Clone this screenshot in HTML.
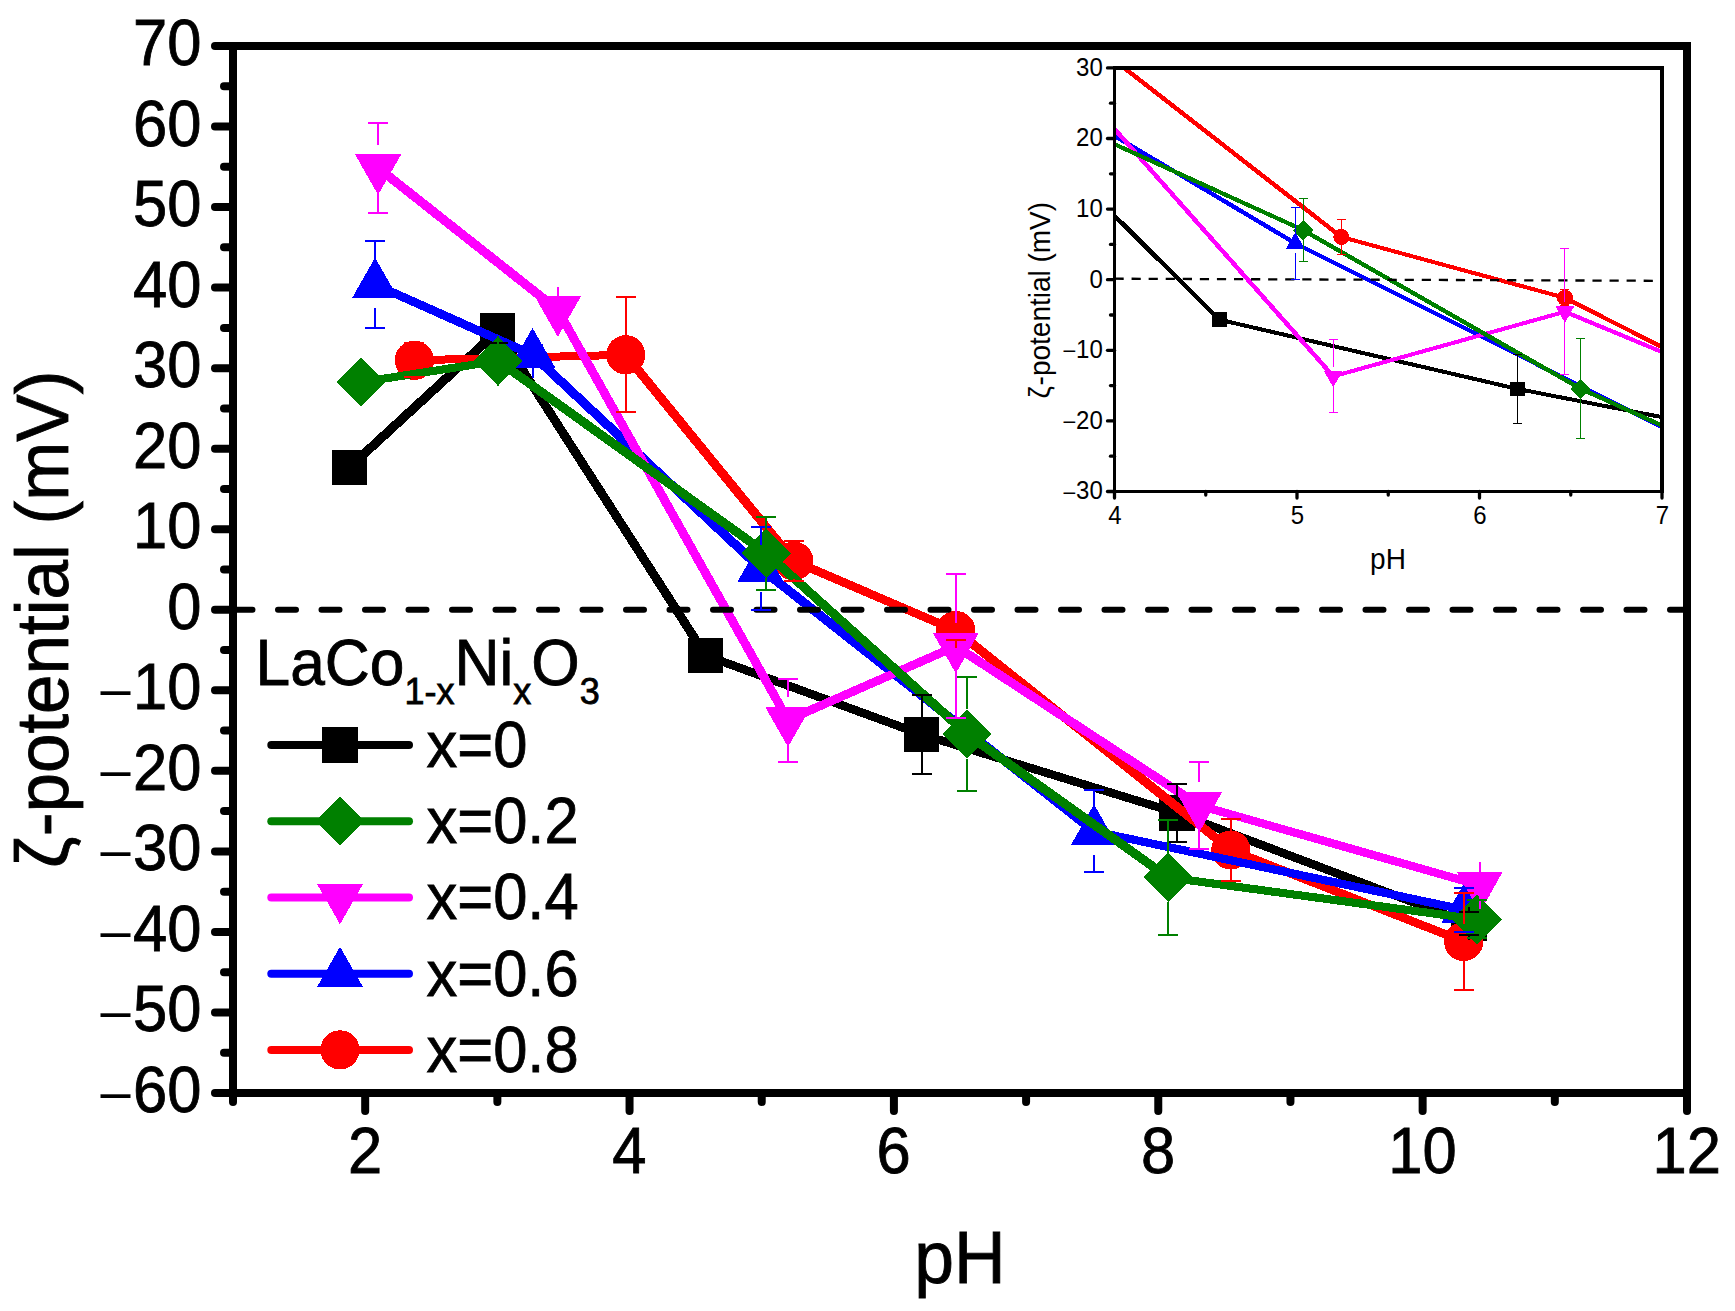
<!DOCTYPE html>
<html lang="en"><head><meta charset="utf-8"><title>zeta potential vs pH</title>
<style>html,body{margin:0;padding:0;background:#fff}body{width:1735px;height:1311px;overflow:hidden}svg{display:block}text{font-family:"Liberation Sans",Arial,sans-serif;fill:#000}</style></head><body>
<svg width="1735" height="1311" viewBox="0 0 1735 1311">
<rect width="1735" height="1311" fill="#fff"/>
<defs><clipPath id="ic"><rect x="1114.5" y="67.9" width="547.5" height="423.6"/></clipPath></defs>
<g shape-rendering="crispEdges">
<line x1="349.3" y1="467.4" x2="497.6" y2="331.1" stroke="#000000" stroke-width="9.19" stroke-linecap="round"/><line x1="497.6" y1="331.1" x2="705.6" y2="655.4" stroke="#000000" stroke-width="8.99" stroke-linecap="round"/><line x1="705.6" y1="655.4" x2="921.5" y2="734.4" stroke="#000000" stroke-width="8.5" stroke-linecap="round"/><line x1="921.5" y1="734.4" x2="1177" y2="813" stroke="#000000" stroke-width="8.38" stroke-linecap="round"/><line x1="1177" y1="813" x2="1469.2" y2="923.3" stroke="#000000" stroke-width="8.52" stroke-linecap="round"/>
<rect x="331.55" y="449.65" width="35.5" height="35.5" fill="#000000"/>
<rect x="479.85" y="313.35" width="35.5" height="35.5" fill="#000000"/>
<rect x="687.85" y="637.65" width="35.5" height="35.5" fill="#000000"/>
<rect x="903.75" y="716.65" width="35.5" height="35.5" fill="#000000"/>
<rect x="1159.25" y="795.25" width="35.5" height="35.5" fill="#000000"/>
<rect x="1451.45" y="905.55" width="35.5" height="35.5" fill="#000000"/>
<line x1="414.4" y1="360.3" x2="625.7" y2="354.8" stroke="#ff0000" stroke-width="8" stroke-linecap="round"/><line x1="625.7" y1="354.8" x2="793.8" y2="561" stroke="#ff0000" stroke-width="9.15" stroke-linecap="round"/><line x1="793.8" y1="561" x2="955.8" y2="630.5" stroke="#ff0000" stroke-width="8.63" stroke-linecap="round"/><line x1="955.8" y1="630.5" x2="1230.8" y2="850" stroke="#ff0000" stroke-width="9.14" stroke-linecap="round"/><line x1="1230.8" y1="850" x2="1463.7" y2="941.5" stroke="#ff0000" stroke-width="8.56" stroke-linecap="round"/>
<circle cx="414.4" cy="360.3" r="19.6" fill="#ff0000"/>
<circle cx="625.7" cy="354.8" r="19.6" fill="#ff0000"/>
<circle cx="793.8" cy="561" r="19.6" fill="#ff0000"/>
<circle cx="955.8" cy="630.5" r="19.6" fill="#ff0000"/>
<circle cx="1230.8" cy="850" r="19.6" fill="#ff0000"/>
<circle cx="1463.7" cy="941.5" r="19.6" fill="#ff0000"/>
<line x1="375.1" y1="284.6" x2="532.5" y2="354.8" stroke="#0000ff" stroke-width="8.66" stroke-linecap="round"/><line x1="532.5" y1="354.8" x2="760.5" y2="568.3" stroke="#0000ff" stroke-width="9.19" stroke-linecap="round"/><line x1="760.5" y1="568.3" x2="1094" y2="831.3" stroke="#0000ff" stroke-width="9.13" stroke-linecap="round"/><line x1="1094" y1="831.3" x2="1464.4" y2="909.8" stroke="#0000ff" stroke-width="8.2" stroke-linecap="round"/>
<polygon points="352.05,298.1 398.15,298.1 375.1,257.6" fill="#0000ff"/>
<polygon points="509.45,368.3 555.55,368.3 532.5,327.8" fill="#0000ff"/>
<polygon points="737.45,581.8 783.55,581.8 760.5,541.3" fill="#0000ff"/>
<polygon points="1070.95,844.8 1117.05,844.8 1094,804.3" fill="#0000ff"/>
<polygon points="1441.35,923.3 1487.45,923.3 1464.4,882.8" fill="#0000ff"/>
<line x1="378.1" y1="167.9" x2="557.8" y2="309.9" stroke="#ff00ff" stroke-width="9.14" stroke-linecap="round"/><line x1="557.8" y1="309.9" x2="788" y2="720" stroke="#ff00ff" stroke-width="8.87" stroke-linecap="round"/><line x1="788" y1="720" x2="955.8" y2="646.3" stroke="#ff00ff" stroke-width="8.65" stroke-linecap="round"/><line x1="955.8" y1="646.3" x2="1199.2" y2="805.4" stroke="#ff00ff" stroke-width="9.01" stroke-linecap="round"/><line x1="1199.2" y1="805.4" x2="1479.7" y2="885.3" stroke="#ff00ff" stroke-width="8.33" stroke-linecap="round"/>
<polygon points="355.05,154.4 401.15,154.4 378.1,194.9" fill="#ff00ff"/>
<polygon points="534.75,296.4 580.85,296.4 557.8,336.9" fill="#ff00ff"/>
<polygon points="764.95,706.5 811.05,706.5 788,747" fill="#ff00ff"/>
<polygon points="932.75,632.8 978.85,632.8 955.8,673.3" fill="#ff00ff"/>
<polygon points="1176.15,791.9 1222.25,791.9 1199.2,832.4" fill="#ff00ff"/>
<polygon points="1456.65,871.8 1502.75,871.8 1479.7,912.3" fill="#ff00ff"/>
<line x1="361" y1="382.2" x2="498" y2="360.9" stroke="#008000" stroke-width="8.11" stroke-linecap="round"/><line x1="498" y1="360.9" x2="766.2" y2="553.2" stroke="#008000" stroke-width="9.08" stroke-linecap="round"/><line x1="766.2" y1="553.2" x2="967.1" y2="734.1" stroke="#008000" stroke-width="9.19" stroke-linecap="round"/><line x1="967.1" y1="734.1" x2="1168.1" y2="877.4" stroke="#008000" stroke-width="9.07" stroke-linecap="round"/><line x1="1168.1" y1="877.4" x2="1477" y2="919.4" stroke="#008000" stroke-width="8.09" stroke-linecap="round"/>
<polygon points="336.3,382.2 361,357.5 385.7,382.2 361,406.9" fill="#008000"/>
<polygon points="473.3,360.9 498,336.2 522.7,360.9 498,385.6" fill="#008000"/>
<polygon points="741.5,553.2 766.2,528.5 790.9,553.2 766.2,577.9" fill="#008000"/>
<polygon points="942.4,734.1 967.1,709.4 991.8,734.1 967.1,758.8" fill="#008000"/>
<polygon points="1143.4,877.4 1168.1,852.7 1192.8,877.4 1168.1,902.1" fill="#008000"/>
<polygon points="1452.3,919.4 1477,894.7 1501.7,919.4 1477,944.1" fill="#008000"/>
<line x1="234.5" y1="609.77" x2="1687" y2="609.77" stroke="#000" stroke-width="6" stroke-dasharray="18 25.5" stroke-linecap="round" shape-rendering="auto"/>

<path d="M497.6 314.7V319.1M487.6 319.1H507.6" stroke="#000000" stroke-width="2" fill="none"/><path d="M497.6 347.5V343.1M487.6 343.1H507.6" stroke="#000000" stroke-width="2" fill="none"/>

<path d="M921.5 718V695.2M911.5 695.2H931.5" stroke="#000000" stroke-width="2" fill="none"/><path d="M921.5 750.8V773.6M911.5 773.6H931.5" stroke="#000000" stroke-width="2" fill="none"/>
<path d="M1177 796.6V783.6M1167 783.6H1187" stroke="#000000" stroke-width="2" fill="none"/><path d="M1177 829.4V842.4M1167 842.4H1187" stroke="#000000" stroke-width="2" fill="none"/>
<path d="M1469.2 906.9V911.6M1459.2 911.6H1479.2" stroke="#000000" stroke-width="2" fill="none"/><path d="M1469.2 939.7V935M1459.2 935H1479.2" stroke="#000000" stroke-width="2" fill="none"/>
<path d="M414.4 342.7V343.3M404.4 343.3H424.4" stroke="#ff0000" stroke-width="2" fill="none"/><path d="M414.4 377.9V377.3M404.4 377.3H424.4" stroke="#ff0000" stroke-width="2" fill="none"/>
<path d="M625.7 337.2V297.3M615.7 297.3H635.7" stroke="#ff0000" stroke-width="2" fill="none"/><path d="M625.7 372.4V412.3M615.7 412.3H635.7" stroke="#ff0000" stroke-width="2" fill="none"/>
<path d="M793.8 543.4V540.7M783.8 540.7H803.8" stroke="#ff0000" stroke-width="2" fill="none"/><path d="M793.8 578.6V581.3M783.8 581.3H803.8" stroke="#ff0000" stroke-width="2" fill="none"/>
<path d="M955.8 612.9V621.5M945.8 621.5H965.8" stroke="#ff0000" stroke-width="2" fill="none"/><path d="M955.8 648.1V639.5M945.8 639.5H965.8" stroke="#ff0000" stroke-width="2" fill="none"/>
<path d="M1230.8 832.4V819M1220.8 819H1240.8" stroke="#ff0000" stroke-width="2" fill="none"/><path d="M1230.8 867.6V881M1220.8 881H1240.8" stroke="#ff0000" stroke-width="2" fill="none"/>
<path d="M1463.7 923.9V893.1M1453.7 893.1H1473.7" stroke="#ff0000" stroke-width="2" fill="none"/><path d="M1463.7 959.1V989.9M1453.7 989.9H1473.7" stroke="#ff0000" stroke-width="2" fill="none"/>
<path d="M375.1 261.3V241M365.1 241H385.1" stroke="#0000ff" stroke-width="2" fill="none"/><path d="M375.1 307.9V328.2M365.1 328.2H385.1" stroke="#0000ff" stroke-width="2" fill="none"/>
<path d="M532.5 331.5V344.8M522.5 344.8H542.5" stroke="#0000ff" stroke-width="2" fill="none"/><path d="M532.5 378.1V364.8M522.5 364.8H542.5" stroke="#0000ff" stroke-width="2" fill="none"/>
<path d="M760.5 545V527M750.5 527H770.5" stroke="#0000ff" stroke-width="2" fill="none"/><path d="M760.5 591.6V609.6M750.5 609.6H770.5" stroke="#0000ff" stroke-width="2" fill="none"/>
<path d="M1094 808V790.3M1084 790.3H1104" stroke="#0000ff" stroke-width="2" fill="none"/><path d="M1094 854.6V872.3M1084 872.3H1104" stroke="#0000ff" stroke-width="2" fill="none"/>
<path d="M1464.4 886.5V888.1M1454.4 888.1H1474.4" stroke="#0000ff" stroke-width="2" fill="none"/><path d="M1464.4 933.1V931.5M1454.4 931.5H1474.4" stroke="#0000ff" stroke-width="2" fill="none"/>
<path d="M378.1 144.6V122.9M368.1 122.9H388.1" stroke="#ff00ff" stroke-width="2" fill="none"/><path d="M378.1 191.2V212.9M368.1 212.9H388.1" stroke="#ff00ff" stroke-width="2" fill="none"/>
<path d="M557.8 286.6V299.9M547.8 299.9H567.8" stroke="#ff00ff" stroke-width="2" fill="none"/><path d="M557.8 333.2V319.9M547.8 319.9H567.8" stroke="#ff00ff" stroke-width="2" fill="none"/>
<path d="M788 696.7V678.5M778 678.5H798" stroke="#ff00ff" stroke-width="2" fill="none"/><path d="M788 743.3V761.5M778 761.5H798" stroke="#ff00ff" stroke-width="2" fill="none"/>
<path d="M955.8 623V574.3M945.8 574.3H965.8" stroke="#ff00ff" stroke-width="2" fill="none"/><path d="M955.8 669.6V718.3M945.8 718.3H965.8" stroke="#ff00ff" stroke-width="2" fill="none"/>
<path d="M1199.2 782.1V761.9M1189.2 761.9H1209.2" stroke="#ff00ff" stroke-width="2" fill="none"/><path d="M1199.2 828.7V848.9M1189.2 848.9H1209.2" stroke="#ff00ff" stroke-width="2" fill="none"/>
<path d="M1479.7 862V875.3M1469.7 875.3H1489.7" stroke="#ff00ff" stroke-width="2" fill="none"/><path d="M1479.7 908.6V895.3M1469.7 895.3H1489.7" stroke="#ff00ff" stroke-width="2" fill="none"/>

<path d="M498 336.2V356.9M488 356.9H508" stroke="#008000" stroke-width="2" fill="none"/><path d="M498 385.6V364.9M488 364.9H508" stroke="#008000" stroke-width="2" fill="none"/>
<path d="M766.2 528.5V516.9M756.2 516.9H776.2" stroke="#008000" stroke-width="2" fill="none"/><path d="M766.2 577.9V589.5M756.2 589.5H776.2" stroke="#008000" stroke-width="2" fill="none"/>
<path d="M967.1 709.4V677.35M957.1 677.35H977.1" stroke="#008000" stroke-width="2" fill="none"/><path d="M967.1 758.8V790.85M957.1 790.85H977.1" stroke="#008000" stroke-width="2" fill="none"/>
<path d="M1168.1 852.7V819.9M1158.1 819.9H1178.1" stroke="#008000" stroke-width="2" fill="none"/><path d="M1168.1 902.1V934.9M1158.1 934.9H1178.1" stroke="#008000" stroke-width="2" fill="none"/>
<path d="M1477 894.7V900.4M1467 900.4H1487" stroke="#008000" stroke-width="2" fill="none"/><path d="M1477 944.1V938.4M1467 938.4H1487" stroke="#008000" stroke-width="2" fill="none"/>
</g>
<g stroke="#000" stroke-width="8" fill="none" shape-rendering="crispEdges">
<rect x="233" y="46" width="1454" height="1047"/>
</g>
<g stroke="#000" stroke-width="8" stroke-linecap="round" fill="none">
<line x1="233" y1="46" x2="215" y2="46"/>
<line x1="233" y1="86.27" x2="224" y2="86.27"/>
<line x1="233" y1="126.54" x2="215" y2="126.54"/>
<line x1="233" y1="166.81" x2="224" y2="166.81"/>
<line x1="233" y1="207.08" x2="215" y2="207.08"/>
<line x1="233" y1="247.35" x2="224" y2="247.35"/>
<line x1="233" y1="287.62" x2="215" y2="287.62"/>
<line x1="233" y1="327.88" x2="224" y2="327.88"/>
<line x1="233" y1="368.15" x2="215" y2="368.15"/>
<line x1="233" y1="408.42" x2="224" y2="408.42"/>
<line x1="233" y1="448.69" x2="215" y2="448.69"/>
<line x1="233" y1="488.96" x2="224" y2="488.96"/>
<line x1="233" y1="529.23" x2="215" y2="529.23"/>
<line x1="233" y1="569.5" x2="224" y2="569.5"/>
<line x1="233" y1="609.77" x2="215" y2="609.77"/>
<line x1="233" y1="650.04" x2="224" y2="650.04"/>
<line x1="233" y1="690.31" x2="215" y2="690.31"/>
<line x1="233" y1="730.58" x2="224" y2="730.58"/>
<line x1="233" y1="770.85" x2="215" y2="770.85"/>
<line x1="233" y1="811.12" x2="224" y2="811.12"/>
<line x1="233" y1="851.38" x2="215" y2="851.38"/>
<line x1="233" y1="891.65" x2="224" y2="891.65"/>
<line x1="233" y1="931.92" x2="215" y2="931.92"/>
<line x1="233" y1="972.19" x2="224" y2="972.19"/>
<line x1="233" y1="1012.46" x2="215" y2="1012.46"/>
<line x1="233" y1="1052.73" x2="224" y2="1052.73"/>
<line x1="233" y1="1093" x2="215" y2="1093"/>
<line x1="233" y1="1093" x2="233" y2="1102"/>
<line x1="365.18" y1="1093" x2="365.18" y2="1111"/>
<line x1="497.36" y1="1093" x2="497.36" y2="1102"/>
<line x1="629.55" y1="1093" x2="629.55" y2="1111"/>
<line x1="761.73" y1="1093" x2="761.73" y2="1102"/>
<line x1="893.91" y1="1093" x2="893.91" y2="1111"/>
<line x1="1026.09" y1="1093" x2="1026.09" y2="1102"/>
<line x1="1158.27" y1="1093" x2="1158.27" y2="1111"/>
<line x1="1290.45" y1="1093" x2="1290.45" y2="1102"/>
<line x1="1422.64" y1="1093" x2="1422.64" y2="1111"/>
<line x1="1554.82" y1="1093" x2="1554.82" y2="1102"/>
<line x1="1687" y1="1093" x2="1687" y2="1111"/>
</g>
<text transform="translate(201.5 65) scale(1 1.04)" font-size="61.5" text-anchor="end" stroke="#000" stroke-width="0.8">70</text>
<text transform="translate(201.5 145.54) scale(1 1.04)" font-size="61.5" text-anchor="end" stroke="#000" stroke-width="0.8">60</text>
<text transform="translate(201.5 226.08) scale(1 1.04)" font-size="61.5" text-anchor="end" stroke="#000" stroke-width="0.8">50</text>
<text transform="translate(201.5 306.62) scale(1 1.04)" font-size="61.5" text-anchor="end" stroke="#000" stroke-width="0.8">40</text>
<text transform="translate(201.5 387.15) scale(1 1.04)" font-size="61.5" text-anchor="end" stroke="#000" stroke-width="0.8">30</text>
<text transform="translate(201.5 467.69) scale(1 1.04)" font-size="61.5" text-anchor="end" stroke="#000" stroke-width="0.8">20</text>
<text transform="translate(201.5 548.23) scale(1 1.04)" font-size="61.5" text-anchor="end" stroke="#000" stroke-width="0.8">10</text>
<text transform="translate(201.5 628.77) scale(1 1.04)" font-size="61.5" text-anchor="end" stroke="#000" stroke-width="0.8">0</text>
<text transform="translate(201.5 709.31) scale(1 1.04)" font-size="61.5" text-anchor="end" stroke="#000" stroke-width="0.8"><tspan font-size="54" dy="-2.1" stroke="none">–</tspan><tspan dy="2.1" dx="2.5">10</tspan></text>
<text transform="translate(201.5 789.85) scale(1 1.04)" font-size="61.5" text-anchor="end" stroke="#000" stroke-width="0.8"><tspan font-size="54" dy="-2.1" stroke="none">–</tspan><tspan dy="2.1" dx="2.5">20</tspan></text>
<text transform="translate(201.5 870.38) scale(1 1.04)" font-size="61.5" text-anchor="end" stroke="#000" stroke-width="0.8"><tspan font-size="54" dy="-2.1" stroke="none">–</tspan><tspan dy="2.1" dx="2.5">30</tspan></text>
<text transform="translate(201.5 950.92) scale(1 1.04)" font-size="61.5" text-anchor="end" stroke="#000" stroke-width="0.8"><tspan font-size="54" dy="-2.1" stroke="none">–</tspan><tspan dy="2.1" dx="2.5">40</tspan></text>
<text transform="translate(201.5 1031.46) scale(1 1.04)" font-size="61.5" text-anchor="end" stroke="#000" stroke-width="0.8"><tspan font-size="54" dy="-2.1" stroke="none">–</tspan><tspan dy="2.1" dx="2.5">50</tspan></text>
<text transform="translate(201.5 1112) scale(1 1.04)" font-size="61.5" text-anchor="end" stroke="#000" stroke-width="0.8"><tspan font-size="54" dy="-2.1" stroke="none">–</tspan><tspan dy="2.1" dx="2.5">60</tspan></text>
<text transform="translate(364.98 1172.8) scale(1 1.04)" font-size="61.5" text-anchor="middle" stroke="#000" stroke-width="0.8">2</text>
<text transform="translate(629.35 1172.8) scale(1 1.04)" font-size="61.5" text-anchor="middle" stroke="#000" stroke-width="0.8">4</text>
<text transform="translate(893.71 1172.8) scale(1 1.04)" font-size="61.5" text-anchor="middle" stroke="#000" stroke-width="0.8">6</text>
<text transform="translate(1158.07 1172.8) scale(1 1.04)" font-size="61.5" text-anchor="middle" stroke="#000" stroke-width="0.8">8</text>
<text transform="translate(1422.44 1172.8) scale(1 1.04)" font-size="61.5" text-anchor="middle" stroke="#000" stroke-width="0.8">10</text>
<text transform="translate(1686.8 1172.8) scale(1 1.04)" font-size="61.5" text-anchor="middle" stroke="#000" stroke-width="0.8">12</text>
<text transform="translate(960 1283) scale(1 1.04)" font-size="71.5" text-anchor="middle" stroke="#000" stroke-width="0.8">pH</text>
<text transform="translate(67.5 836.2) rotate(-90) scale(1 1.04)" font-size="71" text-anchor="start" stroke="#000" stroke-width="0.8">-potential (mV)</text>
<text transform="translate(67.5 868) rotate(-90) scale(1 1.04)" font-size="71" text-anchor="start" stroke="#000" stroke-width="0.8" font-family="Liberation Serif, serif">ζ</text>
<text transform="translate(255.5 684.7) scale(1 1.04)" font-size="62.3" text-anchor="start" stroke="#000" stroke-width="0.8">LaCo<tspan font-size="36" dy="18.8">1-x</tspan><tspan dy="-18.8">Ni</tspan><tspan font-size="36" dy="18.8">x</tspan><tspan dy="-18.8">O</tspan><tspan font-size="36" dy="18.8">3</tspan></text>
<line x1="271.3" y1="744.9" x2="409" y2="744.9" stroke="#000000" stroke-width="8" stroke-linecap="round"/>
<g shape-rendering="crispEdges"><rect x="322.25" y="727.15" width="35.5" height="35.5" fill="#000000"/></g>
<text transform="translate(426.5 766.8) scale(1 1.04)" font-size="61.5" text-anchor="start" stroke="#000" stroke-width="0.8">x=0</text>
<line x1="271.3" y1="821.15" x2="409" y2="821.15" stroke="#008000" stroke-width="8" stroke-linecap="round"/>
<g shape-rendering="crispEdges"><polygon points="315.3,821.15 340,796.45 364.7,821.15 340,845.85" fill="#008000"/></g>
<text transform="translate(426.5 843.05) scale(1 1.04)" font-size="61.5" text-anchor="start" stroke="#000" stroke-width="0.8">x=0.2</text>
<line x1="271.3" y1="897.4" x2="409" y2="897.4" stroke="#ff00ff" stroke-width="8" stroke-linecap="round"/>
<g shape-rendering="crispEdges"><polygon points="316.95,883.9 363.05,883.9 340,924.4" fill="#ff00ff"/></g>
<text transform="translate(426.5 919.3) scale(1 1.04)" font-size="61.5" text-anchor="start" stroke="#000" stroke-width="0.8">x=0.4</text>
<line x1="271.3" y1="973.65" x2="409" y2="973.65" stroke="#0000ff" stroke-width="8" stroke-linecap="round"/>
<g shape-rendering="crispEdges"><polygon points="316.95,987.15 363.05,987.15 340,946.65" fill="#0000ff"/></g>
<text transform="translate(426.5 995.55) scale(1 1.04)" font-size="61.5" text-anchor="start" stroke="#000" stroke-width="0.8">x=0.6</text>
<line x1="271.3" y1="1049.9" x2="409" y2="1049.9" stroke="#ff0000" stroke-width="8" stroke-linecap="round"/>
<g shape-rendering="crispEdges"><circle cx="340" cy="1049.9" r="19.6" fill="#ff0000"/></g>
<text transform="translate(426.5 1071.8) scale(1 1.04)" font-size="61.5" text-anchor="start" stroke="#000" stroke-width="0.8">x=0.8</text>
<g clip-path="url(#ic)" shape-rendering="crispEdges">
<line x1="727.57" y1="154.9" x2="932.33" y2="35.42" stroke="#000000" stroke-width="4.35" stroke-linecap="round"/><line x1="932.33" y1="35.42" x2="1219.51" y2="319.7" stroke="#000000" stroke-width="4.5" stroke-linecap="round"/><line x1="1219.51" y1="319.7" x2="1517.59" y2="388.95" stroke="#000000" stroke-width="4.02" stroke-linecap="round"/><line x1="1517.59" y1="388.95" x2="1870.36" y2="457.85" stroke="#000000" stroke-width="3.98" stroke-linecap="round"/><line x1="1870.36" y1="457.85" x2="2273.79" y2="554.54" stroke="#000000" stroke-width="4.02" stroke-linecap="round"/>
<rect x="720.29" y="147.62" width="14.55" height="14.55" fill="#000000"/>
<rect x="925.05" y="28.14" width="14.55" height="14.55" fill="#000000"/>
<rect x="1212.23" y="312.42" width="14.55" height="14.55" fill="#000000"/>
<rect x="1510.32" y="381.67" width="14.55" height="14.55" fill="#000000"/>
<rect x="1863.08" y="450.57" width="14.55" height="14.55" fill="#000000"/>
<rect x="2266.51" y="547.26" width="14.55" height="14.55" fill="#000000"/>
<line x1="817.45" y1="61.02" x2="1109.19" y2="56.19" stroke="#ff0000" stroke-width="3.9" stroke-linecap="round"/><line x1="1109.19" y1="56.19" x2="1341.28" y2="236.95" stroke="#ff0000" stroke-width="4.46" stroke-linecap="round"/><line x1="1341.28" y1="236.95" x2="1564.95" y2="297.87" stroke="#ff0000" stroke-width="4.05" stroke-linecap="round"/><line x1="1564.95" y1="297.87" x2="1944.64" y2="490.29" stroke="#ff0000" stroke-width="4.29" stroke-linecap="round"/><line x1="1944.64" y1="490.29" x2="2266.2" y2="570.5" stroke="#ff0000" stroke-width="4.03" stroke-linecap="round"/>
<circle cx="817.45" cy="61.02" r="8.04" fill="#ff0000"/>
<circle cx="1109.19" cy="56.19" r="8.04" fill="#ff0000"/>
<circle cx="1341.28" cy="236.95" r="8.04" fill="#ff0000"/>
<circle cx="1564.95" cy="297.87" r="8.04" fill="#ff0000"/>
<circle cx="1944.64" cy="490.29" r="8.04" fill="#ff0000"/>
<circle cx="2266.2" cy="570.5" r="8.04" fill="#ff0000"/>
<line x1="763.19" y1="-5.34" x2="980.51" y2="56.19" stroke="#0000ff" stroke-width="4.06" stroke-linecap="round"/><line x1="980.51" y1="56.19" x2="1295.31" y2="243.35" stroke="#0000ff" stroke-width="4.36" stroke-linecap="round"/><line x1="1295.31" y1="243.35" x2="1755.76" y2="473.89" stroke="#0000ff" stroke-width="4.28" stroke-linecap="round"/><line x1="1755.76" y1="473.89" x2="2267.16" y2="542.71" stroke="#0000ff" stroke-width="3.94" stroke-linecap="round"/>
<polygon points="753.74,0.19 772.64,0.19 763.19,-16.41" fill="#0000ff"/>
<polygon points="971.06,61.73 989.96,61.73 980.51,45.12" fill="#0000ff"/>
<polygon points="1285.86,248.88 1304.76,248.88 1295.31,232.28" fill="#0000ff"/>
<polygon points="1746.31,479.43 1765.21,479.43 1755.76,462.82" fill="#0000ff"/>
<polygon points="2257.71,548.24 2276.61,548.24 2267.16,531.64" fill="#0000ff"/>
<line x1="767.34" y1="-107.64" x2="1015.44" y2="16.83" stroke="#ff00ff" stroke-width="4.29" stroke-linecap="round"/><line x1="1015.44" y1="16.83" x2="1333.27" y2="376.33" stroke="#ff00ff" stroke-width="4.49" stroke-linecap="round"/><line x1="1333.27" y1="376.33" x2="1564.95" y2="311.72" stroke="#ff00ff" stroke-width="4.06" stroke-linecap="round"/><line x1="1564.95" y1="311.72" x2="1901.01" y2="451.19" stroke="#ff00ff" stroke-width="4.2" stroke-linecap="round"/><line x1="1901.01" y1="451.19" x2="2288.29" y2="521.23" stroke="#ff00ff" stroke-width="3.97" stroke-linecap="round"/>
<polygon points="757.89,-113.18 776.79,-113.18 767.34,-96.57" fill="#ff00ff"/>
<polygon points="1005.99,11.3 1024.89,11.3 1015.44,27.9" fill="#ff00ff"/>
<polygon points="1323.82,370.79 1342.72,370.79 1333.27,387.4" fill="#ff00ff"/>
<polygon points="1555.5,306.19 1574.4,306.19 1564.95,322.79" fill="#ff00ff"/>
<polygon points="1891.56,445.65 1910.46,445.65 1901.01,462.26" fill="#ff00ff"/>
<polygon points="2278.84,515.7 2297.74,515.7 2288.29,532.3" fill="#ff00ff"/>
<line x1="743.73" y1="80.21" x2="932.88" y2="61.54" stroke="#008000" stroke-width="3.92" stroke-linecap="round"/><line x1="932.88" y1="61.54" x2="1303.18" y2="230.11" stroke="#008000" stroke-width="4.24" stroke-linecap="round"/><line x1="1303.18" y1="230.11" x2="1580.55" y2="388.69" stroke="#008000" stroke-width="4.35" stroke-linecap="round"/><line x1="1580.55" y1="388.69" x2="1858.07" y2="514.31" stroke="#008000" stroke-width="4.24" stroke-linecap="round"/><line x1="1858.07" y1="514.31" x2="2284.56" y2="551.12" stroke="#008000" stroke-width="3.92" stroke-linecap="round"/>
<polygon points="733.6,80.21 743.73,70.09 753.85,80.21 743.73,90.34" fill="#008000"/>
<polygon points="922.75,61.54 932.88,51.41 943.01,61.54 932.88,71.67" fill="#008000"/>
<polygon points="1293.05,230.11 1303.18,219.98 1313.3,230.11 1303.18,240.24" fill="#008000"/>
<polygon points="1570.43,388.69 1580.55,378.56 1590.68,388.69 1580.55,398.82" fill="#008000"/>
<polygon points="1847.94,514.31 1858.07,504.18 1868.2,514.31 1858.07,524.43" fill="#008000"/>
<polygon points="2274.43,551.12 2284.56,541 2294.69,551.12 2284.56,561.25" fill="#008000"/>
<line x1="1114.5" y1="278.7" x2="1656" y2="280.8" stroke="#000" stroke-width="2.3" stroke-dasharray="9.2 7.87" shape-rendering="auto"/>

<path d="M932.33 28.69V24.9M927.83 24.9H936.83" stroke="#000000" stroke-width="1" fill="none"/><path d="M932.33 42.14V45.94M927.83 45.94H936.83" stroke="#000000" stroke-width="1" fill="none"/>

<path d="M1517.59 382.23V354.59M1513.09 354.59H1522.09" stroke="#000000" stroke-width="1" fill="none"/><path d="M1517.59 395.68V423.31M1513.09 423.31H1522.09" stroke="#000000" stroke-width="1" fill="none"/>
<path d="M1870.36 451.13V432.08M1865.86 432.08H1874.86" stroke="#000000" stroke-width="1" fill="none"/><path d="M1870.36 464.58V483.62M1865.86 483.62H1874.86" stroke="#000000" stroke-width="1" fill="none"/>
<path d="M2273.79 547.82V544.28M2269.29 544.28H2278.29" stroke="#000000" stroke-width="1" fill="none"/><path d="M2273.79 561.27V564.8M2269.29 564.8H2278.29" stroke="#000000" stroke-width="1" fill="none"/>
<path d="M817.45 53.8V46.11M812.95 46.11H821.95" stroke="#ff0000" stroke-width="1" fill="none"/><path d="M817.45 68.23V75.92M812.95 75.92H821.95" stroke="#ff0000" stroke-width="1" fill="none"/>
<path d="M1109.19 48.98V5.79M1104.69 5.79H1113.69" stroke="#ff0000" stroke-width="1" fill="none"/><path d="M1109.19 63.41V106.6M1104.69 106.6H1113.69" stroke="#ff0000" stroke-width="1" fill="none"/>
<path d="M1341.28 229.73V219.15M1336.78 219.15H1345.78" stroke="#ff0000" stroke-width="1" fill="none"/><path d="M1341.28 244.16V254.74M1336.78 254.74H1345.78" stroke="#ff0000" stroke-width="1" fill="none"/>
<path d="M1564.95 290.66V289.98M1560.45 289.98H1569.45" stroke="#ff0000" stroke-width="1" fill="none"/><path d="M1564.95 305.09V305.76M1560.45 305.76H1569.45" stroke="#ff0000" stroke-width="1" fill="none"/>
<path d="M1944.64 483.07V463.11M1940.14 463.11H1949.14" stroke="#ff0000" stroke-width="1" fill="none"/><path d="M1944.64 497.5V517.46M1940.14 517.46H1949.14" stroke="#ff0000" stroke-width="1" fill="none"/>
<path d="M2266.2 563.28V528.07M2261.7 528.07H2270.7" stroke="#ff0000" stroke-width="1" fill="none"/><path d="M2266.2 577.71V612.92M2261.7 612.92H2270.7" stroke="#ff0000" stroke-width="1" fill="none"/>
<path d="M763.19 -14.9V-43.56M758.69 -43.56H767.69" stroke="#0000ff" stroke-width="1" fill="none"/><path d="M763.19 4.21V32.88M758.69 32.88H767.69" stroke="#0000ff" stroke-width="1" fill="none"/>
<path d="M980.51 46.64V47.43M976.01 47.43H985.01" stroke="#0000ff" stroke-width="1" fill="none"/><path d="M980.51 65.75V64.96M976.01 64.96H985.01" stroke="#0000ff" stroke-width="1" fill="none"/>
<path d="M1295.31 233.8V207.14M1290.81 207.14H1299.81" stroke="#0000ff" stroke-width="1" fill="none"/><path d="M1295.31 252.9V279.55M1290.81 279.55H1299.81" stroke="#0000ff" stroke-width="1" fill="none"/>
<path d="M1755.76 464.34V437.95M1751.26 437.95H1760.26" stroke="#0000ff" stroke-width="1" fill="none"/><path d="M1755.76 483.45V509.83M1751.26 509.83H1760.26" stroke="#0000ff" stroke-width="1" fill="none"/>
<path d="M2267.16 533.15V523.68M2262.66 523.68H2271.66" stroke="#0000ff" stroke-width="1" fill="none"/><path d="M2267.16 552.26V561.73M2262.66 561.73H2271.66" stroke="#0000ff" stroke-width="1" fill="none"/>
<path d="M767.34 -117.2V-147.09M762.84 -147.09H771.84" stroke="#ff00ff" stroke-width="1" fill="none"/><path d="M767.34 -98.09V-68.2M762.84 -68.2H771.84" stroke="#ff00ff" stroke-width="1" fill="none"/>
<path d="M1015.44 7.28V8.07M1010.94 8.07H1019.94" stroke="#ff00ff" stroke-width="1" fill="none"/><path d="M1015.44 26.39V25.6M1010.94 25.6H1019.94" stroke="#ff00ff" stroke-width="1" fill="none"/>
<path d="M1333.27 366.78V339.95M1328.77 339.95H1337.77" stroke="#ff00ff" stroke-width="1" fill="none"/><path d="M1333.27 385.88V412.71M1328.77 412.71H1337.77" stroke="#ff00ff" stroke-width="1" fill="none"/>
<path d="M1564.95 302.17V248.61M1560.45 248.61H1569.45" stroke="#ff00ff" stroke-width="1" fill="none"/><path d="M1564.95 321.28V374.84M1560.45 374.84H1569.45" stroke="#ff00ff" stroke-width="1" fill="none"/>
<path d="M1901.01 441.64V413.06M1896.51 413.06H1905.51" stroke="#ff00ff" stroke-width="1" fill="none"/><path d="M1901.01 460.74V489.32M1896.51 489.32H1905.51" stroke="#ff00ff" stroke-width="1" fill="none"/>
<path d="M2288.29 511.68V512.46M2283.79 512.46H2292.79" stroke="#ff00ff" stroke-width="1" fill="none"/><path d="M2288.29 530.78V530M2283.79 530H2292.79" stroke="#ff00ff" stroke-width="1" fill="none"/>

<path d="M932.88 51.41V58.03M928.38 58.03H937.38" stroke="#008000" stroke-width="1" fill="none"/><path d="M932.88 71.67V65.05M928.38 65.05H937.38" stroke="#008000" stroke-width="1" fill="none"/>
<path d="M1303.18 219.98V198.29M1298.68 198.29H1307.68" stroke="#008000" stroke-width="1" fill="none"/><path d="M1303.18 240.24V261.93M1298.68 261.93H1307.68" stroke="#008000" stroke-width="1" fill="none"/>
<path d="M1580.55 378.56V338.94M1576.05 338.94H1585.05" stroke="#008000" stroke-width="1" fill="none"/><path d="M1580.55 398.82V438.44M1576.05 438.44H1585.05" stroke="#008000" stroke-width="1" fill="none"/>
<path d="M1858.07 504.18V463.9M1853.57 463.9H1862.57" stroke="#008000" stroke-width="1" fill="none"/><path d="M1858.07 524.43V564.71M1853.57 564.71H1862.57" stroke="#008000" stroke-width="1" fill="none"/>
<path d="M2284.56 541V534.47M2280.06 534.47H2289.06" stroke="#008000" stroke-width="1" fill="none"/><path d="M2284.56 561.25V567.78M2280.06 567.78H2289.06" stroke="#008000" stroke-width="1" fill="none"/>
</g>
<g fill="#000" shape-rendering="crispEdges"><rect x="1113" y="66" width="3" height="427"/><rect x="1113" y="490" width="551" height="3"/><rect x="1113" y="66" width="551" height="4"/><rect x="1660" y="66" width="4" height="427"/></g>
<g stroke="#000" stroke-width="3.3" stroke-linecap="round" fill="none">
<line x1="1114.5" y1="67.9" x2="1107.5" y2="67.9"/>
<line x1="1114.5" y1="103.2" x2="1110.5" y2="103.2"/>
<line x1="1114.5" y1="138.5" x2="1107.5" y2="138.5"/>
<line x1="1114.5" y1="173.8" x2="1110.5" y2="173.8"/>
<line x1="1114.5" y1="209.1" x2="1107.5" y2="209.1"/>
<line x1="1114.5" y1="244.4" x2="1110.5" y2="244.4"/>
<line x1="1114.5" y1="279.7" x2="1107.5" y2="279.7"/>
<line x1="1114.5" y1="315" x2="1110.5" y2="315"/>
<line x1="1114.5" y1="350.3" x2="1107.5" y2="350.3"/>
<line x1="1114.5" y1="385.6" x2="1110.5" y2="385.6"/>
<line x1="1114.5" y1="420.9" x2="1107.5" y2="420.9"/>
<line x1="1114.5" y1="456.2" x2="1110.5" y2="456.2"/>
<line x1="1114.5" y1="491.5" x2="1107.5" y2="491.5"/>
<line x1="1114.5" y1="491.5" x2="1114.5" y2="498"/>
<line x1="1205.75" y1="491.5" x2="1205.75" y2="495"/>
<line x1="1297" y1="491.5" x2="1297" y2="498"/>
<line x1="1388.25" y1="491.5" x2="1388.25" y2="495"/>
<line x1="1479.5" y1="491.5" x2="1479.5" y2="498"/>
<line x1="1570.75" y1="491.5" x2="1570.75" y2="495"/>
<line x1="1662" y1="491.5" x2="1662" y2="498"/>
</g>
<text transform="translate(1102.8 75.8) scale(1 1.04)" font-size="24" text-anchor="end">30</text>
<text transform="translate(1102.8 146.4) scale(1 1.04)" font-size="24" text-anchor="end">20</text>
<text transform="translate(1102.8 217) scale(1 1.04)" font-size="24" text-anchor="end">10</text>
<text transform="translate(1102.8 287.6) scale(1 1.04)" font-size="24" text-anchor="end">0</text>
<text transform="translate(1102.8 358.2) scale(1 1.04)" font-size="24" text-anchor="end"><tspan font-size="21" dy="-0.8">–</tspan><tspan dy="0.8" dx="1">10</tspan></text>
<text transform="translate(1102.8 428.8) scale(1 1.04)" font-size="24" text-anchor="end"><tspan font-size="21" dy="-0.8">–</tspan><tspan dy="0.8" dx="1">20</tspan></text>
<text transform="translate(1102.8 499.4) scale(1 1.04)" font-size="24" text-anchor="end"><tspan font-size="21" dy="-0.8">–</tspan><tspan dy="0.8" dx="1">30</tspan></text>
<text transform="translate(1114.8 523.8) scale(1 1.04)" font-size="24" text-anchor="middle">4</text>
<text transform="translate(1297.3 523.8) scale(1 1.04)" font-size="24" text-anchor="middle">5</text>
<text transform="translate(1479.8 523.8) scale(1 1.04)" font-size="24" text-anchor="middle">6</text>
<text transform="translate(1662.3 523.8) scale(1 1.04)" font-size="24" text-anchor="middle">7</text>
<text transform="translate(1388 568.9) scale(1 1.04)" font-size="28" text-anchor="middle">pH</text>
<text transform="translate(1049.8 385.4) rotate(-90) scale(1 1.04)" font-size="28" text-anchor="start">-potential (mV)</text>
<text transform="translate(1049.8 398.6) rotate(-90) scale(1 1.04)" font-size="28" text-anchor="start" font-family="Liberation Serif, serif">ζ</text>
</svg></body></html>
